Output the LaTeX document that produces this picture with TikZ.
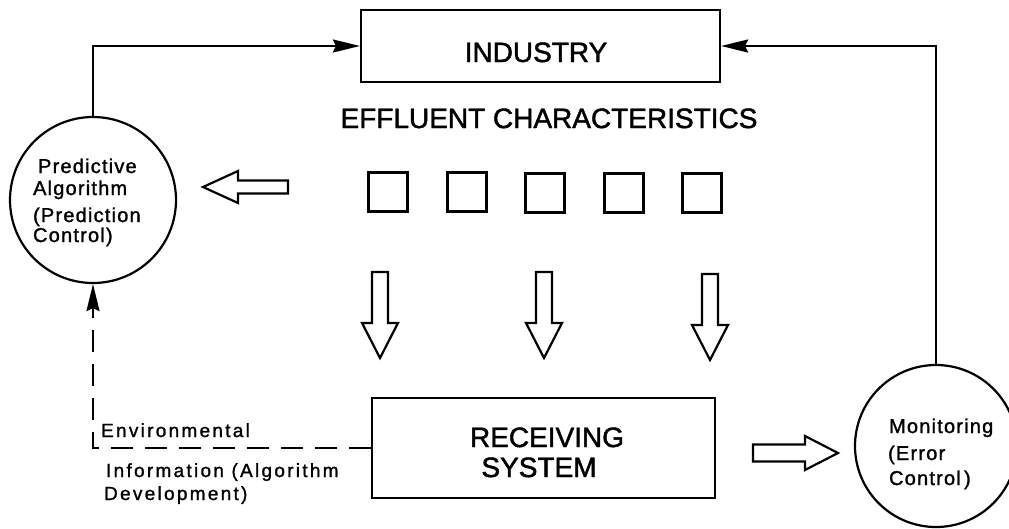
\documentclass[tikz,border=0pt]{standalone}
\usepackage{fontspec}
\setmainfont{Liberation Sans}
\usetikzlibrary{arrows.meta}
\begin{document}
\begin{tikzpicture}[x=1pt,y=-1pt, line width=2.2pt,
  box/.style={draw, rectangle, inner sep=0pt},
  sq/.style={draw, rectangle, inner sep=0pt, minimum size=39pt, line width=2.8pt},
  circ/.style={draw, circle, inner sep=0pt},
  big/.style={inner sep=0pt, font=\fontsize{28}{30}\selectfont\addfontfeatures{FakeBold=1.6}},
  small/.style={inner sep=0pt, anchor=base west, font=\fontsize{20}{22}\selectfont\addfontfeatures{LetterSpace=6,FakeBold=1.4}},
  env/.style={inner sep=0pt, anchor=base west, font=\fontsize{19}{21}\selectfont\addfontfeatures{LetterSpace=12,FakeBold=1.2}},
  arr/.style={-{Stealth[length=27pt,width=13pt,inset=3pt]}},
  dashline/.style={dash pattern=on 22pt off 12pt},
  hollow/.style={draw, line width=2.2pt, line join=miter},
  harrowdown/.pic={\draw[hollow] (-8,0) -- (-8,51) -- (-18,51) -- (0,86) -- (18,51) -- (8,51) -- (8,0) -- cycle;}
]
\useasboundingbox (0,0) rectangle (1009,528);

% boxes
\node[box, minimum width=359pt, minimum height=72pt] (ind) at (540.5,46) {};
\node[big, anchor=base] (indt) at (536,62) {INDUSTRY};
\node[big, anchor=base] (eff) at (549,128) {EFFLUENT CHARACTERISTICS};
\node[box, minimum width=343pt, minimum height=100pt] (rs) at (543.5,448) {};
\node[big, anchor=base] (rst1) at (547,447) {RECEIVING};
\node[big, anchor=base] (rst2) at (539,477) {SYSTEM};

% small squares
\node[sq] (s1) at (388,192) {};
\node[sq] (s2) at (467,192) {};
\node[sq] (s3) at (545,193) {};
\node[sq] (s4) at (624,193) {};
\node[sq] (s5) at (702,193) {};

% circles
\node[circ, minimum size=166pt] (pa) at (93,200) {};
\node[small] (pa1) at (37,173) {Predictive};
\node[small] (pa2) at (32,195) {Algorithm};
\node[small] (pa3) at (32,222) {(Prediction};
\node[small] (pa4) at (32,242) {Control)};

\node[circ, minimum size=162pt] (mon) at (936,446) {};
\node[small] (m1) at (888,433) {Monitoring};
\node[small] (m2) at (887,460) {(Error};
\node[small] (m3) at (888,485) {Control\,)};

% dashed info text
\node[env] (e1) at (100,437) {Environmental};
\node[env] (e2) at (105,477) {Information (Algorithm};
\node[env] (e3) at (103,500) {Development)};

% connectors
\draw[arr] (pa.north) |- (ind.west);
\draw[arr] (mon.north) |- (ind.east);
\draw[arr, dashline] (rs.west) -- (rs.west -| pa.south) -- (pa.south);

% hollow arrows
\pic at (380,272) {harrowdown};
\pic at (544,272) {harrowdown};
\pic at (710,274) {harrowdown};
\draw[hollow] (288,180.5) -- (238,180.5) -- (238,171) -- (203,187) -- (238,203) -- (238,193.5) -- (288,193.5) -- cycle;
\draw[hollow] (753,444.5) -- (805,444.5) -- (805,436) -- (838,453) -- (805,470) -- (805,461.5) -- (753,461.5) -- cycle;
\end{tikzpicture}
\end{document}
